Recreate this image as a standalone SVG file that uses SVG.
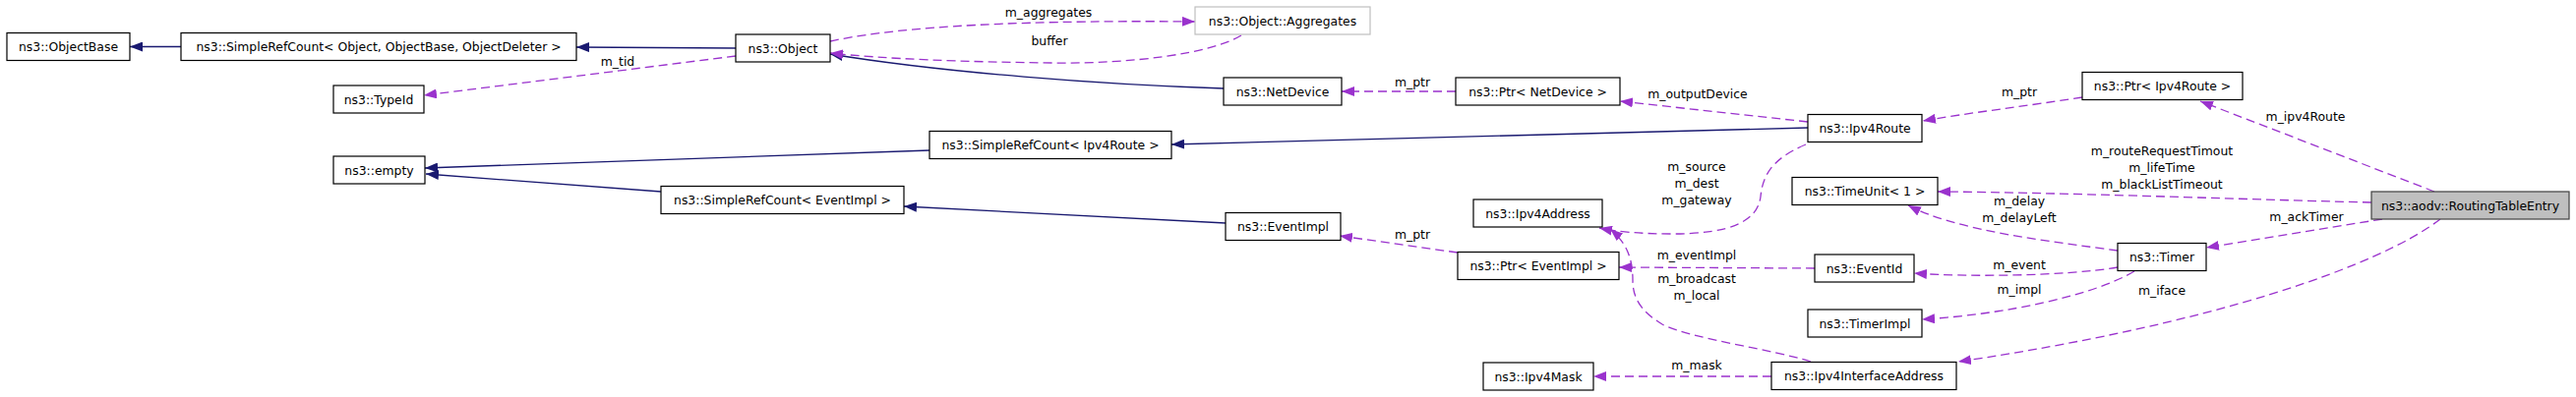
<svg xmlns="http://www.w3.org/2000/svg" width="2619" height="404" viewBox="0 0 2619 404">
<style>
text{font-family:"DejaVu Sans","Liberation Sans",sans-serif;font-size:12.4px;fill:#000;text-anchor:middle}
.n rect{fill:#fff;stroke:#000;stroke-width:1.2}
.g rect{fill:#fff;stroke:#bfbfbf;stroke-width:1.2}
.m rect{fill:#bfbfbf;stroke:#404040;stroke-width:1.2}
.inh{fill:none;stroke:#191970;stroke-width:1.3}
.use{fill:none;stroke:#9a32cd;stroke-width:1.3;stroke-dasharray:9,5}
</style>
<defs>
<marker id="ab" markerUnits="userSpaceOnUse" markerWidth="14" markerHeight="10" refX="13" refY="5" orient="auto"><path d="M0,0 L13,5 L0,10 z" fill="#191970"/></marker>
<marker id="ap" markerUnits="userSpaceOnUse" markerWidth="14" markerHeight="10" refX="13" refY="5" orient="auto"><path d="M0,0 L13,5 L0,10 z" fill="#9a32cd"/></marker>
</defs>
<rect width="2619" height="404" fill="#fff"/>
<g id="connectors">
<path class="inh" marker-end="url(#ab)" d="M184,47.5 L132,47.5"/>
<path class="inh" marker-end="url(#ab)" d="M748,49 L586,48"/>
<path class="inh" marker-end="url(#ab)" d="M1244,90 C1120,86 960,74 844,55"/>
<path class="inh" marker-end="url(#ab)" d="M945,153 L432,171"/>
<path class="inh" marker-end="url(#ab)" d="M672,195 L433,177"/>
<path class="inh" marker-end="url(#ab)" d="M1838,130 L1191,147"/>
<path class="inh" marker-end="url(#ab)" d="M1246,227 L919,210"/>
<path class="use" marker-end="url(#ap)" d="M748,57 L431,97"/>
<path class="use" marker-end="url(#ap)" d="M844,42 C900,30 1000,20 1215,22"/>
<path class="use" marker-end="url(#ap)" d="M1262,36 C1230,55 1150,65 1070,64 C980,63 900,60 844,54"/>
<path class="use" marker-end="url(#ap)" d="M1480,93 L1364,93"/>
<path class="use" marker-end="url(#ap)" d="M1838,124 L1647,103"/>
<path class="use" marker-end="url(#ap)" d="M2117,99 C2060,108 2000,115 1955,123"/>
<path class="use" marker-end="url(#ap)" d="M2475,195 L2237,103"/>
<path class="use" marker-end="url(#ap)" d="M2411,206 C2250,202 2100,196 1970,195"/>
<path class="use" marker-end="url(#ap)" d="M2153,255 C2080,245 1990,235 1940,209"/>
<path class="use" marker-end="url(#ap)" d="M2422,223 L2243,252"/>
<path class="use" marker-end="url(#ap)" d="M2153,272 C2100,281 2000,282 1946,278"/>
<path class="use" marker-end="url(#ap)" d="M2170,276 C2130,300 2040,320 1954,325"/>
<path class="use" marker-end="url(#ap)" d="M2481,223 C2420,270 2250,330 1991,368"/>
<path class="use" marker-end="url(#ap)" d="M1845,273 L1646,272"/>
<path class="use" marker-end="url(#ap)" d="M1482,257 L1362,240"/>
<path class="use" marker-end="url(#ap)" d="M1836,147 C1800,162 1792,180 1790,200 C1787,225 1760,238 1700,238 C1670,238 1645,236 1626,232"/>
<path class="use" marker-end="url(#ap)" d="M1841,368 C1800,355 1720,345 1690,330 C1665,315 1660,300 1660,285 C1660,265 1655,248 1637,233"/>
<path class="use" marker-end="url(#ap)" d="M1801,383 L1620,383"/>
<text x="628" y="67">m_tid</text>
<text x="1066" y="17">m_aggregates</text>
<text x="1067" y="46">buffer</text>
<text x="1436" y="88">m_ptr</text>
<text x="1726" y="100">m_outputDevice</text>
<text x="2053" y="98">m_ptr</text>
<text x="2344" y="123">m_ipv4Route</text>
<text x="2198" y="158">m_routeRequestTimout</text>
<text x="2198" y="175">m_lifeTime</text>
<text x="2198" y="192">m_blackListTimeout</text>
<text x="2053" y="209">m_delay</text>
<text x="2053" y="226">m_delayLeft</text>
<text x="2345" y="225">m_ackTimer</text>
<text x="2053" y="274">m_event</text>
<text x="2053" y="299">m_impl</text>
<text x="2198" y="300">m_iface</text>
<text x="1725" y="264">m_eventImpl</text>
<text x="1436" y="243">m_ptr</text>
<text x="1725" y="174">m_source</text>
<text x="1725" y="191">m_dest</text>
<text x="1725" y="208">m_gateway</text>
<text x="1725" y="288">m_broadcast</text>
<text x="1725" y="305">m_local</text>
<text x="1725" y="376">m_mask</text>
</g>
<g id="n_ObjectBase" class="n"><rect x="7" y="33.5" width="125" height="28"/><text x="69.5" y="52">ns3::ObjectBase</text></g>
<g id="n_SRCObject" class="n"><rect x="184" y="33.5" width="402" height="28"/><text x="385" y="52">ns3::SimpleRefCount&lt; Object, ObjectBase, ObjectDeleter &gt;</text></g>
<g id="n_Object" class="n"><rect x="748" y="35" width="96" height="28"/><text x="796" y="53.5">ns3::Object</text></g>
<g id="n_Aggregates" class="g"><rect x="1215" y="7" width="178" height="28"/><text x="1304" y="25.5">ns3::Object::Aggregates</text></g>
<g id="n_TypeId" class="n"><rect x="339" y="87" width="92" height="28"/><text x="385" y="105.5">ns3::TypeId</text></g>
<g id="n_NetDevice" class="n"><rect x="1244" y="79" width="120" height="28"/><text x="1304" y="97.5">ns3::NetDevice</text></g>
<g id="n_PtrNetDevice" class="n"><rect x="1480" y="79" width="167" height="28"/><text x="1563.5" y="97.5">ns3::Ptr&lt; NetDevice &gt;</text></g>
<g id="n_Ipv4Route" class="n"><rect x="1838" y="116.5" width="116" height="28"/><text x="1896" y="135">ns3::Ipv4Route</text></g>
<g id="n_PtrIpv4Route" class="n"><rect x="2117" y="73.5" width="163" height="28"/><text x="2198.5" y="92">ns3::Ptr&lt; Ipv4Route &gt;</text></g>
<g id="n_empty" class="n"><rect x="339" y="159" width="93" height="28"/><text x="385.5" y="177.5">ns3::empty</text></g>
<g id="n_SRCIpv4Route" class="n"><rect x="945" y="133.5" width="246" height="28"/><text x="1068" y="152">ns3::SimpleRefCount&lt; Ipv4Route &gt;</text></g>
<g id="n_SRCEventImpl" class="n"><rect x="672" y="189.5" width="247" height="28"/><text x="795.5" y="208">ns3::SimpleRefCount&lt; EventImpl &gt;</text></g>
<g id="n_EventImpl" class="n"><rect x="1246" y="216.5" width="117" height="28"/><text x="1304.5" y="235">ns3::EventImpl</text></g>
<g id="n_Ipv4Address" class="n"><rect x="1498" y="203" width="131" height="28"/><text x="1563.5" y="221.5">ns3::Ipv4Address</text></g>
<g id="n_TimeUnit" class="n"><rect x="1822" y="180.5" width="148" height="28"/><text x="1896" y="199">ns3::TimeUnit&lt; 1 &gt;</text></g>
<g id="n_RoutingTableEntry" class="m"><rect x="2411" y="195" width="201" height="28"/><text x="2511.5" y="213.5">ns3::aodv::RoutingTableEntry</text></g>
<g id="n_Timer" class="n"><rect x="2153" y="247.5" width="90" height="28"/><text x="2198" y="266">ns3::Timer</text></g>
<g id="n_EventId" class="n"><rect x="1845" y="259" width="101" height="28"/><text x="1895.5" y="277.5">ns3::EventId</text></g>
<g id="n_PtrEventImpl" class="n"><rect x="1482" y="256.5" width="164" height="28"/><text x="1564" y="275">ns3::Ptr&lt; EventImpl &gt;</text></g>
<g id="n_TimerImpl" class="n"><rect x="1838" y="315" width="116" height="28"/><text x="1896" y="333.5">ns3::TimerImpl</text></g>
<g id="n_Ipv4InterfaceAddress" class="n"><rect x="1801" y="368.5" width="188" height="28"/><text x="1895" y="387">ns3::Ipv4InterfaceAddress</text></g>
<g id="n_Ipv4Mask" class="n"><rect x="1508" y="369" width="112" height="28"/><text x="1564" y="387.5">ns3::Ipv4Mask</text></g>
</svg>
